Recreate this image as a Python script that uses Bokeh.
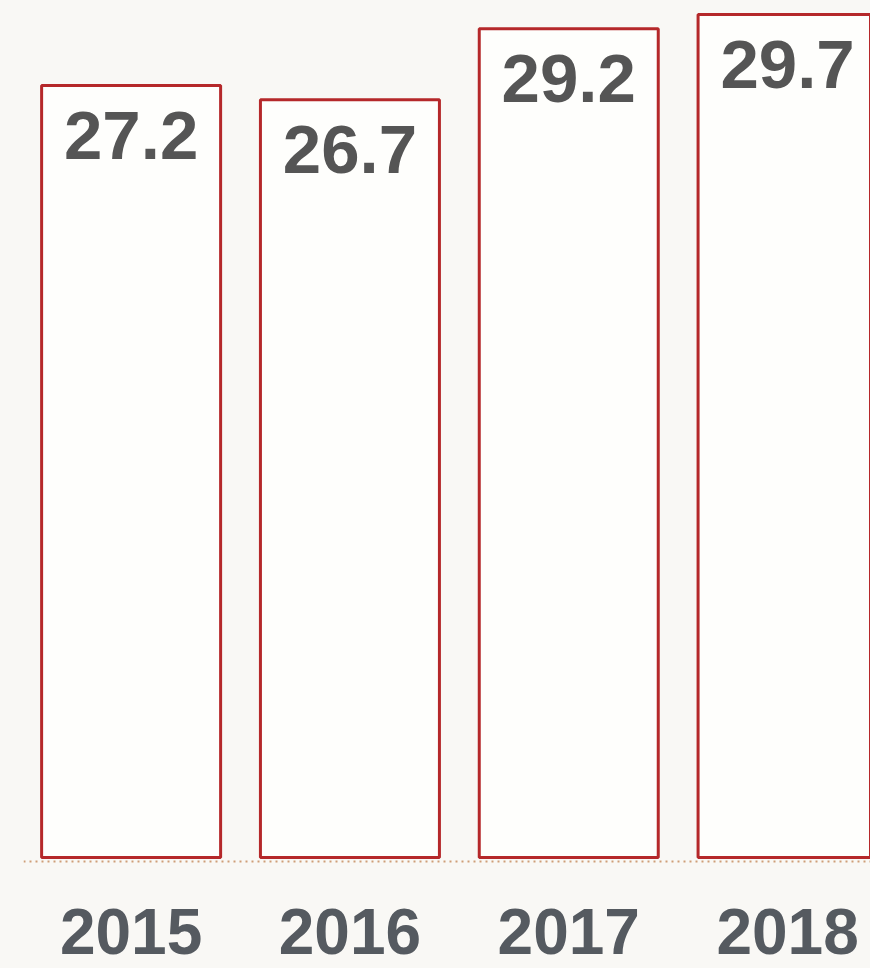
from bokeh.plotting import figure
from bokeh.models import ColumnDataSource, Range1d, Span
from bokeh.core.properties import value
from bokeh.embed import file_html
from bokeh.resources import INLINE

# ---- data ----
years = ["2015", "2016", "2017", "2018"]
values = [27.2, 26.7, 29.2, 29.7]
value_labels = ["27.2", "26.7", "29.2", "29.7"]

BG = "#f9f8f5"
positions = list(range(len(years)))
src = ColumnDataSource(dict(x=positions, top=values, label=value_labels,
                            year=years, base=[0] * len(years)))

p = figure(width=870, height=968, output_backend="svg", toolbar_location=None,
           x_range=Range1d(-0.4918, 3.379), y_range=Range1d(-3.911, 30.197),
           min_border_left=23, min_border_right=0, min_border_top=0,
           min_border_bottom=0)
p.background_fill_color = BG
p.border_fill_color = BG
p.outline_line_color = None
p.xgrid.visible = False
p.ygrid.visible = False
p.xaxis.visible = False
p.yaxis.visible = False

# dotted baseline
p.add_layout(Span(location=-0.141, dimension="width", line_color="#cf9e78",
                  line_width=2, line_dash="2 4"))

p.vbar(x="x", top="top", bottom="base", width=0.818, source=src,
       fill_color="#fefefc", line_color="#b5282a", line_width=3)

p.text(x="x", y="top", text="label", source=src, text_align="center",
       text_baseline="alphabetic", y_offset=50,
       text_font=value("Liberation Sans"), text_font_style="bold",
       text_font_size="69px", text_color="#555555")

# year (category) labels
p.text(x="x", y="base", text="year", source=src, text_align="center",
       text_baseline="alphabetic", y_offset=74,
       text_font=value("Liberation Sans"), text_font_style="bold",
       text_font_size="64px", text_color="#555a60")

html = file_html(p, INLINE)
html = html.replace("<head>", "<head><style>html,body{background:%s;}</style>" % BG, 1)
open("out.html", "w").write(html)
